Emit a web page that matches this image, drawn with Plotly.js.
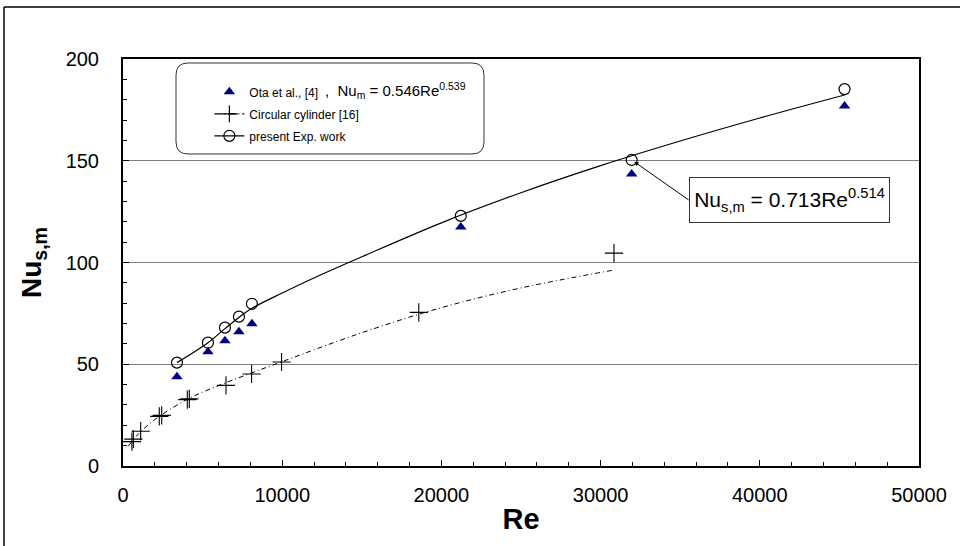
<!DOCTYPE html>
<html>
<head>
<meta charset="utf-8">
<script src="https://cdn.plot.ly/plotly-3.0.1.min.js"></script>
<style>
  html, body { margin: 0; padding: 0; background: #fff; }
  #chart { width: 960px; height: 546px; }
</style>
</head>
<body>
<div id="chart"></div>
<script>
// Present experimental work (open circles) and Ota et al. (triangles)
const reExp = [3390, 5336, 6403, 7282, 8098, 21218, 31952, 45323];
const nuExp = [50.8, 60.6, 68.0, 73.4, 79.7, 122.9, 150.4, 185.2];
const nuOta = [43.9, 56.2, 61.6, 66.0, 69.9, 117.5, 143.5, 176.9];

// Circular cylinder [16] data (crosses)
const reCyl = [560, 650, 1110, 2280, 2430, 4040, 4165, 6470, 8080, 9960, 18580, 30840];
const nuCyl = [12.0, 13.2, 17.1, 24.4, 24.9, 32.6, 33.0, 39.6, 45.2, 51.1, 75.5, 104.6];

// Trend curve through present work
const reFitExp = [3390, 5336, 6403, 7282, 8098, 10000, 12500, 15000, 20000, 25000, 30000, 35000, 40000, 45323];
const nuFitExp = [50.8, 60.6, 67.5, 73.0, 77.5, 85.0, 94.2, 102.8, 119.5, 134.3, 147.6, 159.7, 171.0, 182.3];

// Dash-dot curve for circular cylinder
const reFitCyl = [330, 1000, 2000, 4000, 6000, 8000, 10000, 15000, 20000, 25000, 30700];
const nuFitCyl = [9.7, 16.0, 22.8, 32.6, 39.5, 45.5, 51.3, 65.5, 77.8, 87.5, 96.1];

// Text
const legendNames = ['Ota et al., [4]', 'Circular cylinder [16]', 'present Exp. work'];
const otaFormula = ',&nbsp;&nbsp;Nu<sub>m</sub> = 0.546Re<sup>0.539</sup>';
const expFormula = 'Nu<sub>s,m</sub> = 0.713Re<sup>0.514</sup>';
const xTitle = 'Re';
const yTitle = 'Nu<sub>s,m</sub>';

const FONT = 'Arial, "Liberation Sans", sans-serif';
const cylDash = '5px,3px,1px,3px';

const traces = [
  { // Ota triangles
    x: reExp, y: nuOta, type: 'scatter', mode: 'markers', name: legendNames[0],
    legendgroup: 'a', legendrank: 1,
    marker: { symbol: 'triangle-up', size: 10, color: '#000080' },
    cliponaxis: false
  },
  { // legend entry for cylinder
    x: [null], y: [null], type: 'scatter', mode: 'lines+markers', name: legendNames[1],
    legendgroup: 'b', legendrank: 2,
    line: { color: '#000', width: 1.2, dash: '7px,3px,1px,3px' },
    marker: { symbol: 'cross-thin', size: 12, line: { color: '#000', width: 1.2 } }
  },
  { // legend entry for present work
    x: [null], y: [null], type: 'scatter', mode: 'lines+markers', name: legendNames[2],
    legendgroup: 'c', legendrank: 3,
    line: { color: '#000', width: 1.2 },
    marker: { symbol: 'circle-open', size: 11, color: '#000', line: { width: 1.2 } }
  },
  { // cylinder curve
    x: reFitCyl, y: nuFitCyl, type: 'scatter', mode: 'lines', showlegend: false,
    line: { color: '#000', width: 1, dash: cylDash, shape: 'spline' }
  },
  { // cylinder crosses
    x: reCyl, y: nuCyl, type: 'scatter', mode: 'markers', showlegend: false,
    marker: { symbol: 'cross-thin', size: 13, line: { color: '#000', width: 1.1 } },
    cliponaxis: false
  },
  { // present work curve
    x: reFitExp, y: nuFitExp, type: 'scatter', mode: 'lines', showlegend: false,
    line: { color: '#000', width: 1.2, shape: 'spline' }
  },
  { // present work circles
    x: reExp, y: nuExp, type: 'scatter', mode: 'markers', showlegend: false,
    marker: { symbol: 'circle-open', size: 11, color: '#000', line: { width: 1.2 } },
    cliponaxis: false
  }
];

// rounded legend box in paper coords
const bx0 = 0.0666, bx1 = 0.4535, by0 = 0.7666, by1 = 0.9902, rx = 0.0151, ry = 0.0295;
const roundPath = `M ${bx0+rx},${by1} L ${bx1-rx},${by1} Q ${bx1},${by1} ${bx1},${by1-ry} ` +
  `L ${bx1},${by0+ry} Q ${bx1},${by0} ${bx1-rx},${by0} L ${bx0+rx},${by0} ` +
  `Q ${bx0},${by0} ${bx0},${by0+ry} L ${bx0},${by1-ry} Q ${bx0},${by1} ${bx0+rx},${by1} Z`;

const layout = {
  width: 960, height: 546,
  margin: { l: 123, r: 41, t: 59, b: 80 },
  paper_bgcolor: '#fff', plot_bgcolor: '#fff',
  font: { family: FONT, color: '#000', size: 20 },
  showlegend: true,
  legend: {
    x: 0.1085, y: 0.955, xanchor: 'left', yanchor: 'top',
    bgcolor: 'rgba(0,0,0,0)', borderwidth: 0,
    font: { family: FONT, size: 12, color: '#000' },
    traceorder: 'grouped', tracegroupgap: 3
  },
  xaxis: {
    range: [0, 50000], dtick: 10000, tick0: 0, tickformat: 'd',
    ticks: 'inside', ticklen: 6, tickwidth: 1, tickcolor: '#000',
    minor: { dtick: 2000, ticks: 'inside', ticklen: 4, tickwidth: 1, tickcolor: '#000', showgrid: false },
    showgrid: false, zeroline: false,
    showline: true, linewidth: 2, linecolor: '#000', mirror: true,
    tickfont: { family: FONT, size: 20, color: '#000' },
    ticklabelstandoff: 10,
    title: { text: xTitle, font: { family: FONT, size: 29, color: '#000', weight: 'bold' }, standoff: 4 }
  },
  yaxis: {
    range: [0, 200], dtick: 50, tick0: 0,
    ticks: 'inside', ticklen: 6, tickwidth: 1, tickcolor: '#000',
    minor: { dtick: 10, ticks: 'inside', ticklen: 4, tickwidth: 1, tickcolor: '#000', showgrid: false },
    showgrid: true, gridcolor: '#808080', gridwidth: 1, zeroline: false,
    showline: true, linewidth: 2, linecolor: '#000', mirror: true,
    tickfont: { family: FONT, size: 20, color: '#000' },
    ticklabelstandoff: 18,
    title: { text: yTitle, font: { family: FONT, size: 28, color: '#000', weight: 'bold' }, standoff: 16 }
  },
  shapes: [
    { type: 'path', xref: 'paper', yref: 'paper', path: roundPath,
      line: { color: '#333', width: 1 }, fillcolor: 'rgba(0,0,0,0)', layer: 'above' },
    { type: 'line', xref: 'paper', yref: 'paper', x0: -0.1495, x1: 1.06, y0: 1.1278, y1: 1.1278,
      line: { color: '#000', width: 1.5 } },
    { type: 'line', xref: 'paper', yref: 'paper', x0: -0.1495, x1: -0.1495, y0: -0.21, y1: 1.1278,
      line: { color: '#000', width: 1.5 } }
  ],
  annotations: [
    { xref: 'paper', yref: 'paper', x: 0.2513, y: 0.9214, xanchor: 'left', yanchor: 'middle',
      text: otaFormula, showarrow: false, font: { family: FONT, size: 15, color: '#000' } },
    { x: reExp[6], y: nuExp[6], xref: 'x', yref: 'y', text: expFormula,
      showarrow: true, ax: 57, ay: 40, axref: 'pixel', ayref: 'pixel',
      xanchor: 'left', yanchor: 'middle', width: 193, height: 38,
      arrowhead: 2, arrowsize: 0.9, arrowwidth: 1, arrowcolor: '#000', standoff: 3,
      font: { family: FONT, size: 21, color: '#000' },
      bordercolor: '#333', borderwidth: 1, borderpad: 3, bgcolor: '#fff' }
  ]
};

Plotly.newPlot('chart', traces, layout, { displayModeBar: false, staticPlot: true });
</script>
</body>
</html>
